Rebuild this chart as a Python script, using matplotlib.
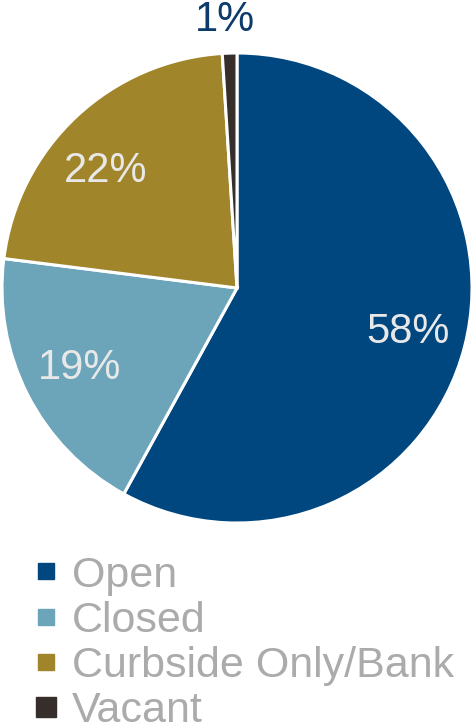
import matplotlib
matplotlib.use("Agg")
import matplotlib.pyplot as plt
from matplotlib.lines import Line2D

plt.rcParams['font.family'] = ['Liberation Sans', 'DejaVu Sans']

categories = ["Open", "Closed", "Curbside Only/Bank", "Vacant"]
shares = [58, 19, 22, 1]
colors = ["#00467F", "#6CA5BA", "#A0852B", "#362E2B"]
label_colors = ["#E8E8E8", "#E8E8E8", "#E8E8E8", "#0B3A6B"]
marker_sizes = [11, 11, 11, 15]

W, H = 473, 723
fig = plt.figure(figsize=(W / 100, H / 100), dpi=100)

# pie area: centre (237, 288) px, radius 235 px
cx, cy, r = 237, 288, 235
ax = fig.add_axes([(cx - r) / W, (H - cy - r) / H, 2 * r / W, 2 * r / H])

wedges, texts, autotexts = ax.pie(
    shares, colors=colors, startangle=90, counterclock=False,
    autopct=lambda p: f"{p:.0f}%", pctdistance=0.75,
    wedgeprops=dict(edgecolor="white", linewidth=2.2),
    textprops=dict(fontsize=30),
)
for t, c in zip(autotexts, label_colors):
    t.set_color(c)
# nudge the curbside label lower-left, and put the tiny slice's label outside
autotexts[2].set_position((-0.56, 0.50))
autotexts[-1].set_position((-0.05, 1.14))
ax.set_xlim(-1, 1)
ax.set_ylim(-1, 1)
ax.set_aspect("auto")

handles = [Line2D([], [], linestyle="none", marker="s", markersize=ms,
                  markerfacecolor=c, markeredgecolor=c)
           for c, ms in zip(colors, marker_sizes)]
fig.legend(handles, categories, loc="upper left",
           bbox_to_anchor=(12 / W, 1 - 534 / H), frameon=False,
           fontsize=31, labelcolor="#ABABAB", handlelength=0.6,
           handletextpad=0.3, labelspacing=0.12, borderpad=0)

fig.savefig("out.png", dpi=100)
